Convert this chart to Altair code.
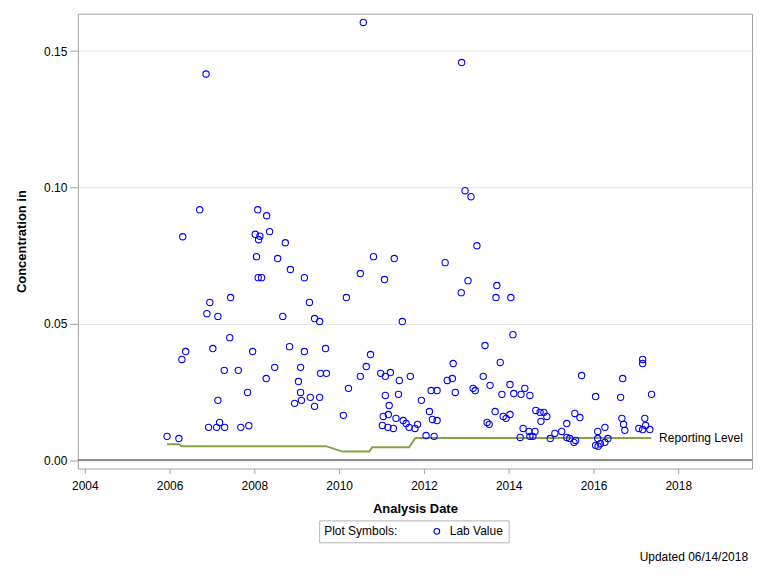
import altair as alt
import pandas as pd

# ---- Lab values (decimal year of analysis, concentration) ----
years = [2005.94, 2006.22, 2006.29, 2006.38, 2006.31, 2006.71, 2006.86, 2006.88, 2006.95, 2007.14,
         2007.02, 2006.92, 2007.11, 2007.18, 2007.30, 2007.14, 2007.29, 2007.42, 2007.44, 2007.62,
         2007.68, 2007.87, 2007.84, 2007.96, 2008.08, 2008.29, 2008.02, 2008.13, 2008.10, 2008.36,
         2008.73, 2008.05, 2008.55, 2008.85, 2008.09, 2008.17, 2008.28, 2008.48, 2008.67, 2008.83,
         2008.95, 2009.04, 2009.09, 2009.09, 2009.11, 2009.18, 2009.18, 2009.30, 2009.32, 2009.42,
         2009.54, 2009.54, 2009.42, 2009.56, 2009.70, 2009.68, 2010.10, 2010.17, 2010.22, 2010.50,
         2010.50, 2010.57, 2010.64, 2010.74, 2010.81, 2010.98, 2011.09, 2011.21, 2011.07, 2011.30,
         2011.09, 2011.40, 2011.18, 2011.04, 2011.16, 2011.34, 2011.02, 2011.15, 2011.28, 2011.42,
         2011.49, 2011.51, 2011.58, 2011.65, 2011.79, 2011.85, 2011.68, 2011.94, 2012.05, 2012.24,
         2012.13, 2012.20, 2012.31, 2012.17, 2012.31, 2012.50, 2012.55, 2012.67, 2012.69, 2012.74,
         2012.88, 2012.89, 2012.97, 2013.11, 2013.04, 2013.25, 2013.16, 2013.21, 2013.40, 2013.44,
         2013.49, 2013.54, 2013.56, 2013.68, 2013.70, 2013.72, 2013.80, 2013.84, 2013.87, 2013.94,
         2014.03, 2014.03, 2014.05, 2014.10, 2014.12, 2014.29, 2014.38, 2014.50, 2014.27, 2014.34,
         2014.48, 2014.62, 2014.50, 2014.57, 2014.64, 2014.74, 2014.83, 2014.90, 2014.76, 2014.98,
         2015.09, 2015.25, 2015.37, 2015.56, 2015.68, 2015.37, 2015.44, 2015.54, 2015.58, 2015.72,
         2016.05, 2016.10, 2016.27, 2016.10, 2016.34, 2016.05, 2016.11, 2016.16, 2016.27, 2016.69,
         2016.64, 2016.67, 2016.71, 2016.74, 2017.16, 2017.16, 2017.37, 2017.21, 2017.07, 2017.16,
         2017.23, 2017.33]

values = [0.0087, 0.0079, 0.0369, 0.0398, 0.0819, 0.0918, 0.1416, 0.0537, 0.0578, 0.0527,
          0.0409, 0.0120, 0.0120, 0.0138, 0.0120, 0.0219, 0.0329, 0.0449, 0.0596, 0.0329,
          0.0120, 0.0126, 0.0248, 0.0398, 0.0918, 0.0896, 0.0828, 0.0821, 0.0808, 0.0838,
          0.0797, 0.0746, 0.0739, 0.0699, 0.0669, 0.0669, 0.0299, 0.0340, 0.0527, 0.0416,
          0.0208, 0.0288, 0.0340, 0.0248, 0.0219, 0.0398, 0.0669, 0.0578, 0.0230, 0.0519,
          0.0508, 0.0230, 0.0197, 0.0318, 0.0318, 0.0409, 0.0164, 0.0596, 0.0263, 0.0684,
          0.0307, 0.1605, 0.0343, 0.0387, 0.0746, 0.0318, 0.0307, 0.0321, 0.0662, 0.0739,
          0.0237, 0.0241, 0.0200, 0.0160, 0.0167, 0.0153, 0.0127, 0.0120, 0.0116, 0.0292,
          0.0508, 0.0145, 0.0134, 0.0120, 0.0116, 0.0131, 0.0307, 0.0219, 0.0090, 0.0087,
          0.0178, 0.0149, 0.0145, 0.0255, 0.0255, 0.0724, 0.0292, 0.0299, 0.0354, 0.0248,
          0.0614, 0.1458, 0.0988, 0.0966, 0.0658, 0.0786, 0.0263, 0.0255, 0.0307, 0.0420,
          0.0138, 0.0131, 0.0274, 0.0178, 0.0596, 0.0640, 0.0358, 0.0241, 0.0160, 0.0153,
          0.0167, 0.0277, 0.0596, 0.0460, 0.0244, 0.0241, 0.0263, 0.0237, 0.0083, 0.0116,
          0.0105, 0.0105, 0.0087, 0.0087, 0.0182, 0.0175, 0.0175, 0.0160, 0.0142, 0.0079,
          0.0098, 0.0105, 0.0134, 0.0171, 0.0156, 0.0083, 0.0079, 0.0065, 0.0072, 0.0310,
          0.0233, 0.0105, 0.0120, 0.0079, 0.0079, 0.0054, 0.0051, 0.0060, 0.0065, 0.0299,
          0.0230, 0.0153, 0.0131, 0.0109, 0.0369, 0.0354, 0.0241, 0.0153, 0.0116, 0.0112,
          0.0127, 0.0112]

# ---- Reporting level step line ----
rl_years = [2005.94, 2006.22, 2006.28, 2009.69, 2010.08, 2010.71, 2010.78, 2011.65, 2011.80, 2017.36]
rl_values = [0.0058, 0.0058, 0.0051, 0.0051, 0.0031, 0.0031, 0.0047, 0.0047, 0.0081, 0.0081]

x_ticks = [2004, 2006, 2008, 2010, 2012, 2014, 2016, 2018]
y_ticks = [0.0, 0.05, 0.10, 0.15]

pts = pd.DataFrame({"year": years, "conc": values, "series": "Lab Value"})
rl = pd.DataFrame({"year": rl_years, "conc": rl_values, "idx": range(len(rl_years))})
rl_label = rl.tail(1).assign(label="Reporting Level")
zero = pd.DataFrame({"conc": [0.0]})
note = pd.DataFrame({"t": ["Updated 06/14/2018"]})

x_enc = alt.X("year:Q",
              scale=alt.Scale(domain=[2003.835, 2019.74], nice=False, zero=False),
              axis=alt.Axis(values=x_ticks, format="d", grid=False, tickSize=5,
                            labelPadding=7, title="Analysis Date", titlePadding=11))
y_enc = alt.Y("conc:Q",
              scale=alt.Scale(domain=[-0.0031, 0.1637], nice=False, zero=False),
              axis=alt.Axis(values=y_ticks, format=".2f", grid=True, gridColor="#e3e3e3",
                            tickSize=8, labelPadding=3, title="Concentration in",
                            titleX=-56, titleY=228, titleAlign="center",
                            titleBaseline="middle", titleAngle=270))

zero_rule = alt.Chart(zero).mark_rule(color="#8c8c8c", strokeWidth=2).encode(y=y_enc)

line = alt.Chart(rl).mark_line(color="#86a34a", strokeWidth=2).encode(
    x=x_enc, y=y_enc, order="idx:Q")

points = alt.Chart(pts).mark_point(shape="circle", filled=False, size=40, strokeWidth=1.1,
                                   opacity=1).encode(
    x=x_enc, y=y_enc,
    color=alt.Color("series:N", scale=alt.Scale(range=["#0000ff"]),
                    legend=alt.Legend(title="Plot Symbols:", orient="none", legendX=242, legendY=508,
                                      direction="horizontal", titleOrient="left",
                                      titleFontSize=12, titleFontWeight="normal", titleColor="black",
                                      titlePadding=33, labelFontSize=12, labelColor="black",
                                      labelOffset=7, strokeColor="#b4b4b4", padding=5,
                                      symbolSize=32, symbolStrokeWidth=1.1, symbolType="circle",
                                      symbolOpacity=1)))

rl_text = alt.Chart(rl_label).mark_text(align="left", baseline="middle", dx=8, fontSize=12,
                                         color="black").encode(x=x_enc, y=y_enc, text="label:N")

note_text = alt.Chart(note).mark_text(align="right", baseline="middle", fontSize=12,
                                       color="black").encode(
    x=alt.value(672), y=alt.value(545), text="t:N")

chart = alt.layer(zero_rule, line, points, rl_text, note_text).properties(
    width=676, height=456,
    autosize=alt.AutoSizeParams(type="none"),
    padding={"left": 70, "top": 5, "right": 8, "bottom": 100},
).configure(font="Liberation Sans").configure_view(
    stroke="#a0a0a0", strokeWidth=1
).configure_axis(
    domain=False, labelFontSize=12, labelColor="black", tickColor="#a0a0a0",
    titleFontSize=13, titleFontWeight="bold", titleColor="black"
)

chart.save("out.html", embed_options={"renderer": "svg", "actions": False})
